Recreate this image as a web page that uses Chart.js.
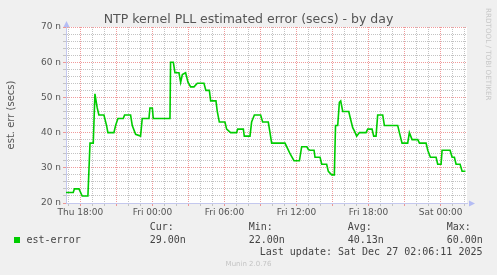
<!DOCTYPE html>
<html><head><meta charset="utf-8">
<script src="https://cdn.jsdelivr.net/npm/chart.js@4/dist/chart.umd.min.js"></script>
<style>
html,body{margin:0;padding:0;background:#f0f0f0;}
#wrap{position:relative;width:497px;height:275px;overflow:hidden;background:#f0f0f0;}
canvas{position:absolute;left:0;top:0;}
.t{position:absolute;white-space:pre;}
.mono{font-family:"DejaVu Sans Mono",monospace;font-size:10px;line-height:10px;color:#444;}
</style></head><body>
<div id="wrap">
<canvas id="c" width="497" height="275"></canvas>
<div class="t" id="title" style="left:0;width:497px;text-align:center;top:12.7px;font-family:'DejaVu Sans';font-size:12.5px;line-height:12.5px;color:#555;"></div>
<div class="t" id="rrd" style="left:484px;top:8px;writing-mode:vertical-rl;font-family:'DejaVu Sans';font-size:7.2px;color:#c8c8c8;"></div>
<div id="sq" style="position:absolute;left:14px;top:237px;width:6px;height:6px;background:#00cc00;"></div>
<div class="t mono" id="sname" style="left:26.5px;top:235px;"></div>
<div id="stats"></div>
<div class="t mono" id="upd" style="right:14.5px;top:246.5px;"></div>
<div class="t" id="munin" style="left:0;width:497px;text-align:center;top:260.5px;font-family:'DejaVu Sans';font-size:7px;line-height:7px;color:#c4c4c4;"></div>
</div>
<script>
// ---- data (hours relative to Fri 00:00, values in nanoseconds) ----
const titleText = 'NTP kernel PLL estimated error (secs) - by day';
const yAxisTitle = 'est. err (secs)';
const seriesName = 'est-error';
const hours = [-7.2,-6.6,-6.5,-6.12,-5.85,-5.375,-5.2,-4.93,-4.79,-4.6,-4.46,-4.04,-3.82,-3.71,-3.21,-3.07,-2.875,-2.43,-2.32,-1.82,-1.68,-1.40,-0.99,-0.85,-0.29,-0.21,-0.01,0.07,1.46,1.51,1.74,1.875,2.21,2.35,2.49,2.76,2.96,3.18,3.46,3.74,4.29,4.45,4.74,4.85,5.29,5.40,5.57,6.04,6.18,6.51,7.01,7.10,7.57,7.65,8.125,8.26,8.49,9.01,9.18,9.65,9.93,11.04,11.32,11.46,11.79,12.24,12.43,12.85,12.99,13.125,13.46,13.54,13.96,14.10,14.51,14.65,14.93,15.15,15.25,15.43,15.57,15.68,15.85,16.35,16.49,16.68,16.82,17.01,17.24,17.79,17.93,18.29,18.43,18.625,18.76,19.18,19.32,20.43,20.57,20.79,21.26,21.40,21.625,22.10,22.24,22.79,22.93,23.15,23.625,23.76,24.04,24.125,24.79,24.96,25.15,25.29,25.625,25.79,26.07];
const errNs = [23,23,24,24,22,22,37,37,51,47,45,45,42,40,40,42,44,44,45,45,42,39.5,39,44,44,47,47,44,44,60,60,57,57,54.3,56.5,57,54.3,53,53,54,54,52,52,49,49,46,43,43,41,40,40,41,41,39,39,43,45,45,43,43,37,37,35,34,32,32,36,36,35.2,35,35,33,33,31,31,29,28,28,42,42,48.6,49,46,46,44,41.4,40.5,39,40,40,41,41,39,39,45,45,42,42,40,37,37,40,38,38,37,37,35,33,33,31,31,35,35,33,33,31,31,29,29];
const xRange = [-7.2, 26.2];
const xTickHours = [-6, 0, 6, 12, 18, 24];
const xTickLabels = ['Thu 18:00','Fri 00:00','Fri 06:00','Fri 12:00','Fri 18:00','Sat 00:00'];
const yRange = [20, 70];
const yTickValues = [20, 30, 40, 50, 60, 70];
const yTickLabels = ['20 n','30 n','40 n','50 n','60 n','70 n'];
const statNames = ['Cur:','Min:','Avg:','Max:'];
const statValues = ['29.00n','22.00n','40.13n','60.00n'];
const lastUpdate = 'Last update: Sat Dec 27 02:06:11 2025';
const footer = 'Munin 2.0.76';
const sideText = 'RRDTOOL / TOBI OETIKER';

// ---- text ----
document.getElementById('title').textContent = titleText;
document.getElementById('rrd').textContent = sideText;
document.getElementById('sname').textContent = seriesName;
document.getElementById('upd').textContent = lastUpdate;
document.getElementById('munin').textContent = footer;
const statX = [149.7, 248.7, 347.7, 446.7];
const statsDiv = document.getElementById('stats');
statNames.forEach((n, i) => {
  const a = document.createElement('div'); a.className = 't mono';
  a.style.left = statX[i] + 'px'; a.style.top = '222.2px'; a.textContent = n; statsDiv.appendChild(a);
  const b = document.createElement('div'); b.className = 't mono';
  b.style.left = statX[i] + 'px'; b.style.top = '235px'; b.textContent = statValues[i]; statsDiv.appendChild(b);
});

const RED = 'rgba(235,120,120,0.75)';
const GRAY = 'rgba(195,195,195,1)';
const AXIS = '#c4c8ee';
const isMult = (v, m) => Math.abs(v / m - Math.round(v / m)) < 1e-6;

const decor = {
  id: 'decor',
  beforeDraw(chart) {
    const {ctx, chartArea: a} = chart;
    ctx.save(); ctx.fillStyle = '#ffffff';
    ctx.fillRect(a.left, a.top, a.right - a.left, a.bottom - a.top);
    ctx.restore();
  },
  afterDraw(chart) {
    const {ctx, chartArea: a} = chart;
    ctx.save(); ctx.fillStyle = '#b4bcf4';
    const lx = Math.round(a.left) + 0.5;
    ctx.beginPath(); ctx.moveTo(lx - 3, a.top); ctx.lineTo(lx + 3, a.top); ctx.lineTo(lx, a.top - 6); ctx.closePath(); ctx.fill();
    const by = Math.round(a.bottom) + 0.5;
    ctx.beginPath(); ctx.moveTo(a.right + 2, by - 3); ctx.lineTo(a.right + 2, by + 3); ctx.lineTo(a.right + 8, by); ctx.closePath(); ctx.fill();
    ctx.restore();
  }
};

new Chart(document.getElementById('c'), {
  type: 'line',
  data: {
    datasets: [{
      label: seriesName,
      data: hours.map((h, i) => ({x: h, y: errNs[i]})),
      borderColor: '#00cc00', borderWidth: 1.6, pointRadius: 0, tension: 0, fill: false
    }]
  },
  options: {
    responsive: false, animation: false, devicePixelRatio: 1,
    layout: {padding: {left: 0, top: 27, right: 30, bottom: 52}},
    plugins: {legend: {display: false}, tooltip: {enabled: false}, title: {display: false}},
    scales: {
      x: {
        type: 'linear', min: xRange[0], max: xRange[1],
        afterFit: s => { s.height = 20; },
        border: {color: AXIS, width: 1, dash: [1, 1]},
        grid: {
          color: c => isMult(c.tick.value, 3) ? RED : GRAY,
          tickColor: c => isMult(c.tick.value, 3) ? RED : GRAY,
          lineWidth: 1, tickLength: 3, drawTicks: true
        },
        ticks: {
          stepSize: 1, autoSkip: false, maxRotation: 0, minRotation: 0, includeBounds: false, padding: 1,
          color: '#555', font: {family: 'DejaVu Sans', size: 9},
          callback: v => { const k = xTickHours.findIndex(h => Math.abs(h - v) < 1e-6); return k >= 0 ? xTickLabels[k] : ''; }
        }
      },
      y: {
        type: 'linear', min: yRange[0], max: yRange[1],
        afterFit: s => { s.width = 66; },
        border: {color: AXIS, width: 1, dash: [1, 1]},
        grid: {
          color: c => isMult(c.tick.value, 10) ? RED : GRAY,
          tickColor: c => isMult(c.tick.value, 10) ? RED : GRAY,
          lineWidth: 1, tickLength: 3, drawTicks: true
        },
        ticks: {
          stepSize: 2, autoSkip: false, padding: 2,
          color: '#555', font: {family: 'DejaVu Sans', size: 9},
          callback: v => { const k = yTickValues.findIndex(t => Math.abs(t - v) < 1e-6); return k >= 0 ? yTickLabels[k] : ''; }
        },
        title: {display: true, text: yAxisTitle, color: '#555', font: {family: 'DejaVu Sans', size: 10}, padding: {top: 5, bottom: 0}}
      }
    }
  },
  plugins: [decor]
});
</script>
</body></html>
